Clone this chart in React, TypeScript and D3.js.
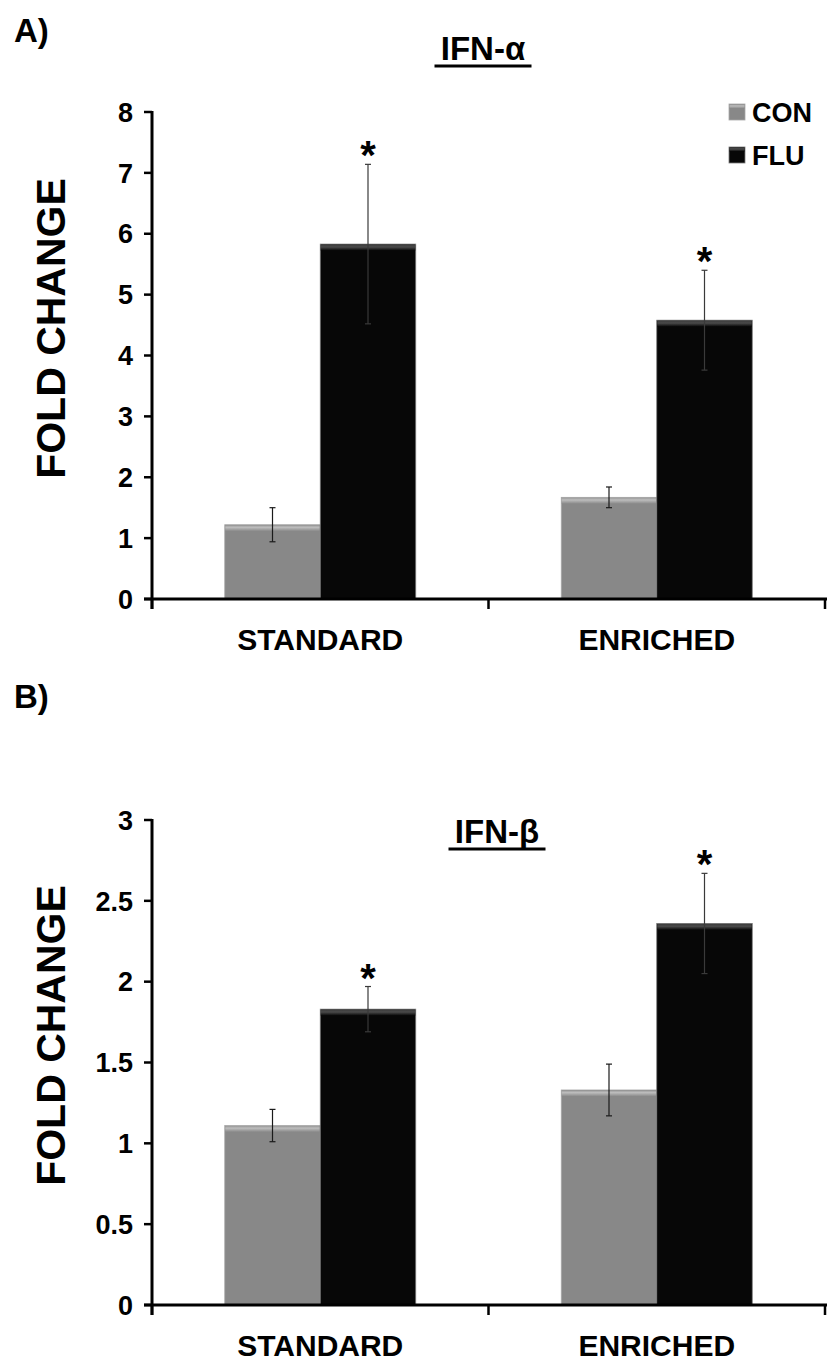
import React from 'react';
import * as d3 from 'd3';

const categories = ['STANDARD', 'ENRICHED'];
const seriesNames = ['CON', 'FLU'];

const alphaCon = [1.22, 1.67];
const alphaConErr = [0.28, 0.17];
const alphaFlu = [5.83, 4.58];
const alphaFluErr = [1.31, 0.82];
const alphaTicks = [0, 1, 2, 3, 4, 5, 6, 7, 8];

const betaCon = [1.11, 1.33];
const betaConErr = [0.1, 0.16];
const betaFlu = [1.83, 2.36];
const betaFluErr = [0.14, 0.31];
const betaTicks = [0, 0.5, 1, 1.5, 2, 2.5, 3];

const FONT = '"Liberation Sans", Arial, sans-serif';

type PanelProps = {
  id: string;
  letter: string;
  letterY: number;
  title: string;
  titleX: number;
  titleY: number;
  yTop: number;
  yBottom: number;
  ticks: number[];
  con: number[];
  conErr: number[];
  flu: number[];
  fluErr: number[];
  legend: boolean;
};

const X0 = 152;
const X1 = 825;

function Panel(p: PanelProps) {
  const x = d3
    .scaleBand<string>()
    .domain(categories)
    .range([X0, X1])
    .paddingInner(0.4324)
    .paddingOuter(0.2162);
  const xs = d3.scaleBand<string>().domain(seriesNames).range([0, x.bandwidth()]).padding(0);
  const y = d3
    .scaleLinear()
    .domain([0, d3.max(p.ticks) as number])
    .range([p.yBottom, p.yTop]);

  const step = x.step();
  const boundaries = [X0, X0 + step, X0 + 2 * step];

  const bars: { cat: string; s: string; v: number; e: number }[] = [];
  categories.forEach((c, i) => {
    bars.push({ cat: c, s: 'CON', v: p.con[i], e: p.conErr[i] });
    bars.push({ cat: c, s: 'FLU', v: p.flu[i], e: p.fluErr[i] });
  });

  const titleW = p.title.length * 19;

  return (
    <g>
      <defs>
        <linearGradient id={p.id + 'conTop'} x1="0" y1="0" x2="0" y2="1">
          <stop offset="0" stopColor="#9a9a9a" />
          <stop offset="0.35" stopColor="#bdbdbd" />
          <stop offset="1" stopColor="#888888" />
        </linearGradient>
        <linearGradient id={p.id + 'fluTop'} x1="0" y1="0" x2="0" y2="1">
          <stop offset="0" stopColor="#3c3c3c" />
          <stop offset="0.4" stopColor="#4a4a4a" />
          <stop offset="1" stopColor="#070707" />
        </linearGradient>
      </defs>

      {/* panel letter */}
      <text x={14} y={p.letterY} fontFamily={FONT} fontWeight="bold" fontSize={33} fill="#000">
        {p.letter}
      </text>

      {/* title */}
      <text
        x={p.titleX}
        y={p.titleY}
        textAnchor="middle"
        fontFamily={FONT}
        fontWeight="bold"
        fontSize={33}
        fill="#000"
      >
        {p.title}
      </text>
      <line
        x1={p.titleX - titleW / 2 - 1}
        x2={p.titleX + titleW / 2 + 1}
        y1={p.titleY + 6}
        y2={p.titleY + 6}
        stroke="#000"
        strokeWidth={3}
      />

      {/* y label */}
      <text
        transform={`translate(65,${(p.yTop + p.yBottom) / 2 - 27}) rotate(-90)`}
        textAnchor="middle"
        fontFamily={FONT}
        fontWeight="bold"
        fontSize={41}
        fill="#000"
      >
        FOLD CHANGE
      </text>

      {/* bars */}
      {bars.map((b, i) => {
        const bx = (x(b.cat) as number) + (xs(b.s) as number);
        const bw = xs.bandwidth();
        const by = y(b.v);
        const bh = y(0) - by;
        const isCon = b.s === 'CON';
        return (
          <g key={i}>
            <rect
              x={bx}
              y={by}
              width={bw}
              height={bh}
              fill={isCon ? '#888888' : '#070707'}
              stroke={isCon ? '#a8a8a8' : '#7a7a7a'}
              strokeWidth={0.8}
            />
            <rect
              x={bx + 0.5}
              y={by + 0.5}
              width={bw - 1}
              height={6}
              fill={`url(#${p.id}${isCon ? 'conTop' : 'fluTop'})`}
            />
          </g>
        );
      })}

      {/* error bars */}
      {bars.map((b, i) => {
        const cx = (x(b.cat) as number) + (xs(b.s) as number) + xs.bandwidth() / 2;
        const yt = y(b.v + b.e);
        const yb = y(b.v - b.e);
        const col = b.s === 'CON' ? '#1a1a1a' : '#3a3a3a';
        return (
          <g key={'e' + i} stroke={col} strokeWidth={1.2}>
            <line x1={cx} x2={cx} y1={yt} y2={yb} />
            <line x1={cx - 3} x2={cx + 3} y1={yt} y2={yt} />
            <line x1={cx - 3} x2={cx + 3} y1={yb} y2={yb} />
          </g>
        );
      })}

      {/* significance stars */}
      {categories.map((c, i) => {
        const cx = (x(c) as number) + (xs('FLU') as number) + xs.bandwidth() / 2;
        const yt = y(p.flu[i] + p.fluErr[i]);
        return (
          <text
            key={'s' + i}
            x={cx}
            y={yt + 5}
            textAnchor="middle"
            fontFamily={FONT}
            fontWeight="bold"
            fontSize={40}
            fill="#000"
          >
            *
          </text>
        );
      })}

      {/* y axis */}
      <line x1={X0} x2={X0} y1={y(d3.max(p.ticks) as number) - 1} y2={y(0) + 10} stroke="#000" strokeWidth={3} />
      {p.ticks.map((t) => (
        <g key={'t' + t}>
          <line x1={X0 - 8} x2={X0} y1={y(t)} y2={y(t)} stroke="#000" strokeWidth={2.5} />
          <text
            x={133}
            y={y(t)}
            dy="0.36em"
            textAnchor="end"
            fontFamily={FONT}
            fontWeight="bold"
            fontSize={27}
            fill="#000"
          >
            {String(t)}
          </text>
        </g>
      ))}

      {/* x axis */}
      <line x1={X0 - 8} x2={827} y1={y(0)} y2={y(0)} stroke="#000" strokeWidth={3} />
      {boundaries.map((bx, i) => (
        <line key={'xb' + i} x1={bx} x2={bx} y1={y(0)} y2={y(0) + 10} stroke="#000" strokeWidth={2.5} />
      ))}
      {categories.map((c) => (
        <text
          key={'xl' + c}
          x={(x(c) as number) + x.bandwidth() / 2}
          y={y(0) + 51}
          textAnchor="middle"
          fontFamily={FONT}
          fontWeight="bold"
          fontSize={30}
          fill="#000"
        >
          {c}
        </text>
      ))}

      {/* legend */}
      {p.legend &&
        seriesNames.map((s, i) => (
          <g key={'lg' + s}>
            <rect
              x={729}
              y={104 + i * 43}
              width={16}
              height={16}
              fill={s === 'CON' ? '#888888' : '#070707'}
              stroke={s === 'CON' ? '#a8a8a8' : '#7a7a7a'}
              strokeWidth={0.8}
            />
            <rect
              x={729.5}
              y={104.5 + i * 43}
              width={15}
              height={4}
              fill={`url(#${p.id}${s === 'CON' ? 'conTop' : 'fluTop'})`}
            />
            <text
              x={752}
              y={122 + i * 43}
              fontFamily={FONT}
              fontWeight="bold"
              fontSize={27}
              fill="#000"
            >
              {s}
            </text>
          </g>
        ))}
    </g>
  );
}

export default function App() {
  return (
    <svg
      width={827}
      height={1361}
      style={{ position: 'absolute', left: 0, top: 0, background: '#fff' }}
    >
      <rect x={0} y={0} width={827} height={1361} fill="#fff" />
      <Panel
        id="a"
        letter="A)"
        letterY={42}
        title="IFN-α"
        titleX={483}
        titleY={60}
        yTop={112}
        yBottom={599}
        ticks={alphaTicks}
        con={alphaCon}
        conErr={alphaConErr}
        flu={alphaFlu}
        fluErr={alphaFluErr}
        legend={true}
      />
      <Panel
        id="b"
        letter="B)"
        letterY={708}
        title="IFN-β"
        titleX={497}
        titleY={843}
        yTop={820}
        yBottom={1305}
        ticks={betaTicks}
        con={betaCon}
        conErr={betaConErr}
        flu={betaFlu}
        fluErr={betaFluErr}
        legend={false}
      />
    </svg>
  );
}
